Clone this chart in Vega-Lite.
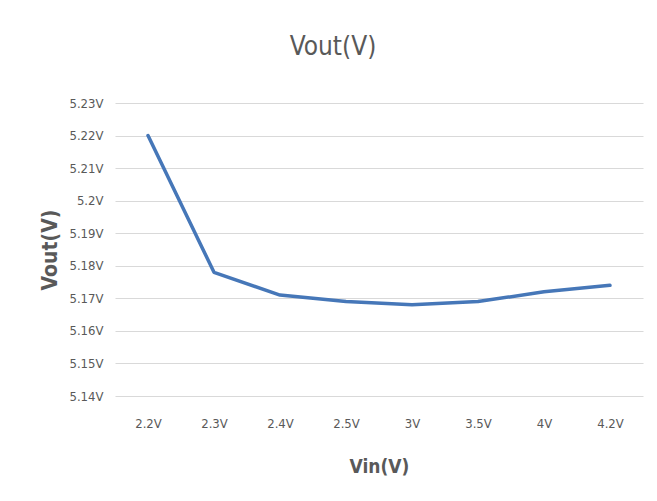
{
  "$schema": "https://vega.github.io/schema/vega-lite/v6.json",
  "width": 528,
  "height": 293,
  "autosize": {"type": "none"},
  "padding": {"left": 115, "top": 103, "right": 14, "bottom": 105},
  "background": "white",
  "title": {
    "text": "Vout(V)",
    "anchor": "middle",
    "frame": "group",
    "dx": -46,
    "offset": 37,
    "fontSize": 26,
    "font": "DejaVu Sans Condensed, Liberation Sans, sans-serif",
    "fontWeight": "normal",
    "color": "#595959"
  },
  "config": {
    "view": {"stroke": null},
    "axis": {
      "labelFont": "DejaVu Sans Condensed, Liberation Sans, sans-serif",
      "labelFontSize": 13,
      "labelColor": "#595959",
      "titleFont": "DejaVu Sans Condensed, Liberation Sans, sans-serif",
      "titleColor": "#595959",
      "titleFontWeight": "bold",
      "ticks": false,
      "gridColor": "#d9d9d9",
      "domainColor": "#d9d9d9"
    }
  },
  "data": {
    "values": [
      {"vin": "2.2V", "vout": 5.22},
      {"vin": "2.3V", "vout": 5.178},
      {"vin": "2.4V", "vout": 5.171},
      {"vin": "2.5V", "vout": 5.169},
      {"vin": "3V", "vout": 5.168},
      {"vin": "3.5V", "vout": 5.169},
      {"vin": "4V", "vout": 5.172},
      {"vin": "4.2V", "vout": 5.174}
    ]
  },
  "mark": {"type": "line", "color": "#4677b8", "strokeWidth": 3.5, "strokeCap": "round", "strokeJoin": "round"},
  "encoding": {
    "x": {
      "field": "vin",
      "type": "nominal",
      "sort": null,
      "scale": {"type": "point", "padding": 0.5},
      "axis": {
        "title": "Vin(V)",
        "titleFontSize": 19,
        "titlePadding": 27,
        "labelAngle": 0,
        "labelPadding": 21,
        "domain": false,
        "grid": false
      }
    },
    "y": {
      "field": "vout",
      "type": "quantitative",
      "scale": {"domain": [5.14, 5.23], "zero": false, "nice": false},
      "axis": {
        "title": "Vout(V)",
        "titleFontSize": 21,
        "titlePadding": 8,
        "values": [5.14, 5.15, 5.16, 5.17, 5.18, 5.19, 5.2, 5.21, 5.22, 5.23],
        "labelExpr": "format(datum.value, '.2~f') + 'V'",
        "labelPadding": 12,
        "domain": false,
        "grid": true
      }
    }
  }
}
